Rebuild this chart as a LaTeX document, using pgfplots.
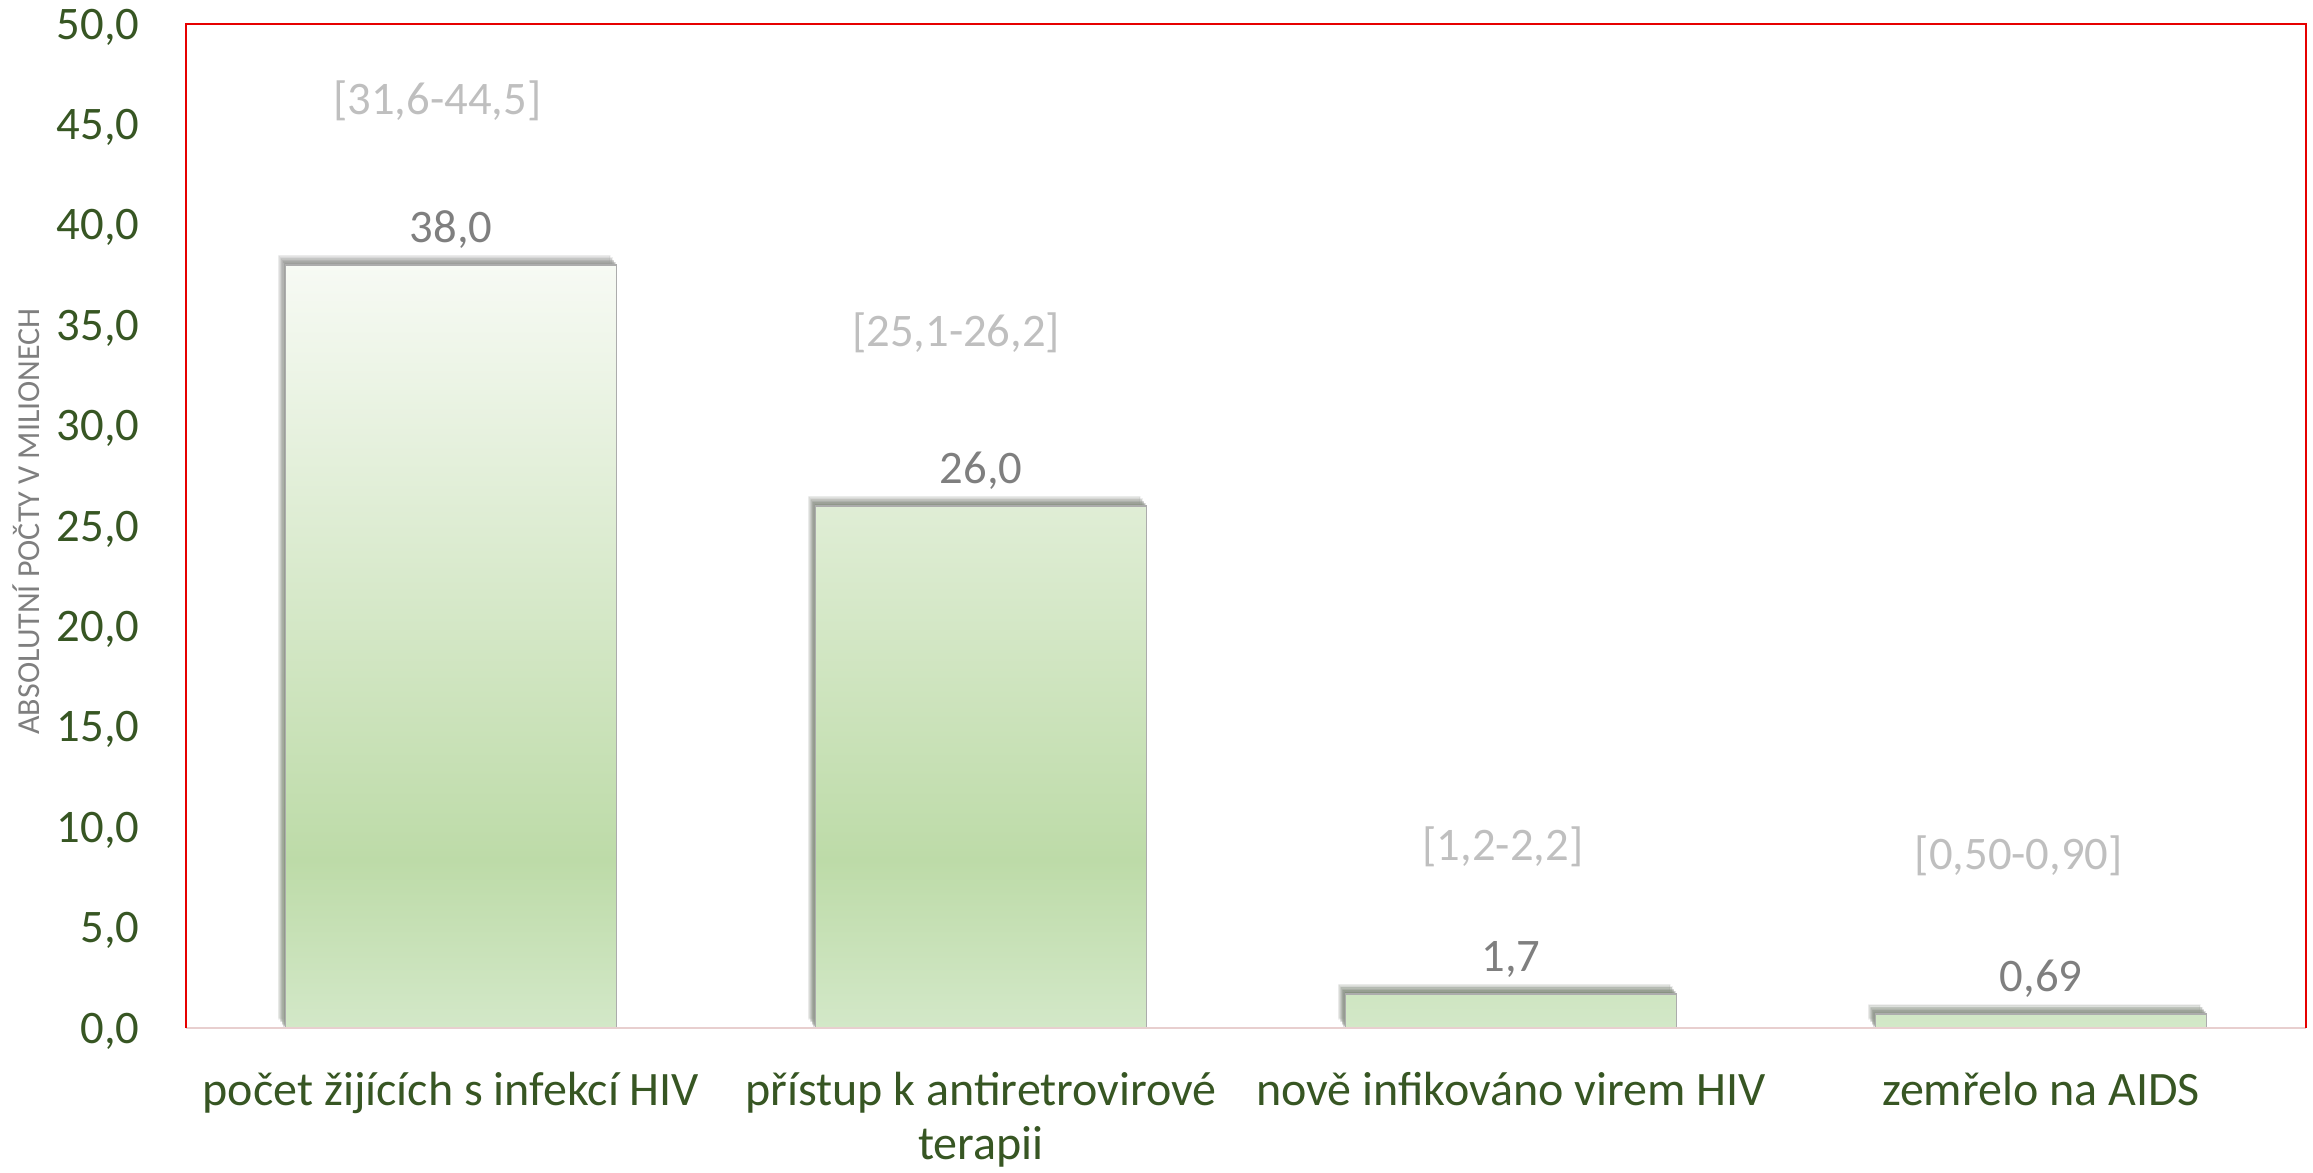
\documentclass[border=0pt]{standalone}
\usepackage{fontspec}
\setmainfont{Carlito}
\usepackage{pgfplots}
\pgfplotsset{compat=1.18}
\usetikzlibrary{shadows}
\definecolor{tickgreen}{HTML}{375623}
\definecolor{valgray}{HTML}{7F7F7F}
\definecolor{rangegray}{HTML}{BFBFBF}
\definecolor{barA}{HTML}{D3E8C8}
\definecolor{barB}{HTML}{BDDBA8}
\definecolor{barC}{HTML}{F7FAF4}
\definecolor{axred}{HTML}{E60000}
\definecolor{botline}{HTML}{E8CFCF}
\pgfdeclareverticalshading{barshade}{100bp}{color(0bp)=(barA); color(25bp)=(barA); color(36bp)=(barB); color(75bp)=(barC); color(100bp)=(barC)}
\begin{document}
\begin{tikzpicture}
\begin{axis}[
  ybar,
  at={(0,0)}, anchor=south west,
  scale only axis, width=636pt, height=301.2pt,
  xmin=-0.5, xmax=3.5, ymin=0, ymax=50,
  ytick={0,5,...,50},
  xtick={0,1,2,3},
  xticklabels={po\v{c}et žijících s infekcí HIV, přístup k antiretrovirové\\terapii, nově infikováno virem HIV, zemřelo na AIDS},
  major tick length=0pt,
  axis line style={draw=none},
  /pgf/number format/assume math mode=true,
  yticklabel style={/pgf/number format/.cd, fixed, fixed zerofill, precision=1, use comma, /tikz/.cd,
    font=\fontsize{14}{16}\selectfont, text=tickgreen, inner sep=0pt, text depth=0pt, anchor=east, xshift=-13.8pt},
  xticklabel style={font=\fontsize{14.4}{16.2}\selectfont, text=tickgreen, inner sep=0pt, anchor=north, align=center, yshift=-13pt},
  bar width=0.625,
  point meta=explicit symbolic,
  nodes near coords,
  every node near coord/.append style={anchor=base, inner sep=0pt, yshift=6.7pt, text=valgray, font=\fontsize{14}{16}\selectfont},
  clip=false,
]
\addplot[draw=gray!65, line width=0.5pt, shade, shading=barshade,
  drop shadow={shadow xshift=-2.0pt, shadow yshift=2.8pt, opacity=0.12, fill=black},
  drop shadow={shadow xshift=-1.4pt, shadow yshift=2.0pt, opacity=0.2, fill=black},
  drop shadow={shadow xshift=-0.9pt, shadow yshift=1.3pt, opacity=0.3, fill=black},
  drop shadow={shadow xshift=-0.5pt, shadow yshift=0.7pt, opacity=0.35, fill=black}]
  coordinates {(0,38.0) [38,0] (1,26.0) [26,0] (2,1.7) [1,7] (3,0.69) [0,69]};
\draw[botline, line width=0.7pt] (rel axis cs:0,0) -- (rel axis cs:1,0);
\draw[axred, line width=0.7pt] (rel axis cs:0,0) -- (rel axis cs:0,1) -- (rel axis cs:1,1) -- (rel axis cs:1,0);
\node[text=rangegray, font=\fontsize{14}{16}\selectfont] at (axis cs:-0.026,46.2) {[31,6-44,5]};
\node[text=rangegray, font=\fontsize{14}{16}\selectfont] at (axis cs:0.953,34.6) {[25,1-26,2]};
\node[text=rangegray, font=\fontsize{14}{16}\selectfont] at (axis cs:1.985,9.0) {[1,2-2,2]};
\node[text=rangegray, font=\fontsize{14}{16}\selectfont] at (axis cs:2.958,8.6) {[0,50-0,90]};
\end{axis}
\node[rotate=90, text=valgray, font=\fontsize{9.6}{10}\selectfont] at (-47.8pt,152pt) {ABSOLUTNÍ POČTY V MILIONECH};
\pgfresetboundingbox
\path[use as bounding box] (-55.8pt,-43.2pt) rectangle (638.1pt,308.4pt);
\end{tikzpicture}
\end{document}
